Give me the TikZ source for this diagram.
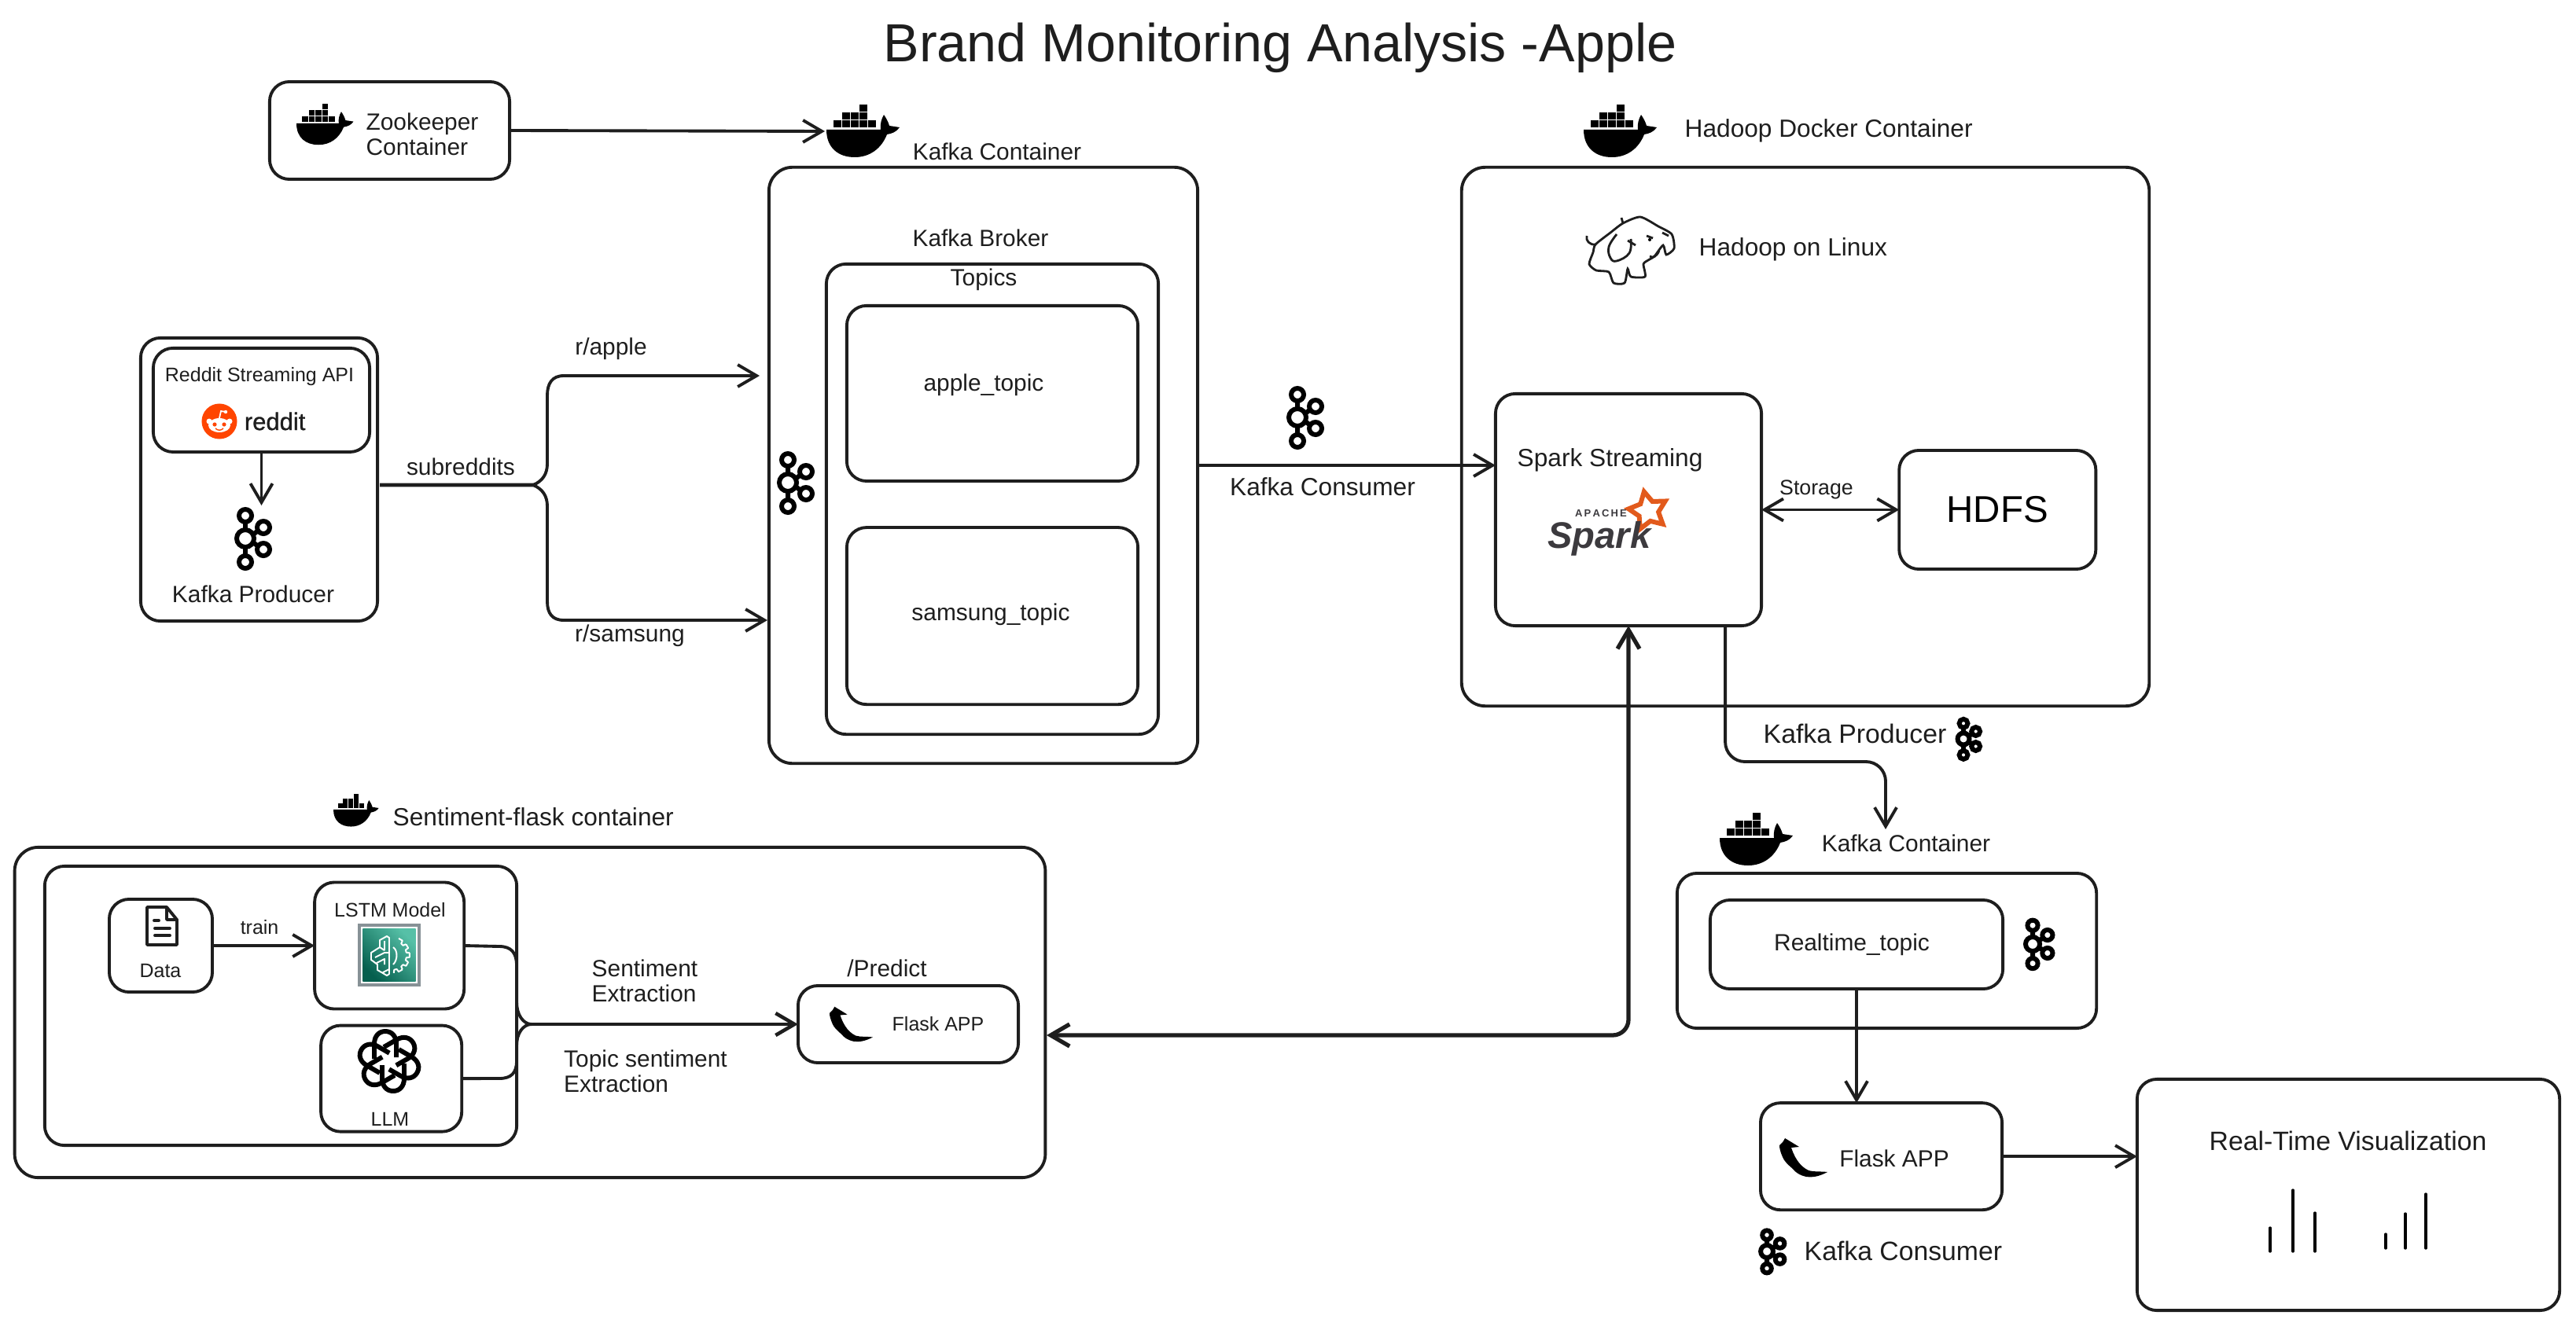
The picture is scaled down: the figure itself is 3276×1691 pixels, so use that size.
\documentclass[tikz,border=0pt]{standalone}
\usepackage{fontspec}
\setmainfont{Liberation Sans}
\usepackage{tikz}
\usetikzlibrary{positioning, shapes.geometric, arrows.meta}
\definecolor{redditorange}{HTML}{FF4500}
\definecolor{sparkorange}{HTML}{E25A1C}
\definecolor{sparkgrey}{HTML}{3C3A3E}
\definecolor{inkblack}{HTML}{1E1E1E}
\definecolor{lstmdark}{HTML}{055F4E}
\definecolor{lstmlight}{HTML}{56C0A7}
\definecolor{lstmedge}{HTML}{879196}
\newcommand{\titlefont}{\fontsize{19.4pt}{23pt}\selectfont}
\newcommand{\hdfsfont}{\fontsize{13.5pt}{16pt}\selectfont}
\newcommand{\vizfont}{\fontsize{9.6pt}{11pt}\selectfont}
\newcommand{\wordfont}{\fontsize{9pt}{10.2pt}\selectfont}
\newcommand{\lblfont}{\fontsize{8.5pt}{9.2pt}\selectfont}
\newcommand{\tinyfont}{\fontsize{7.1pt}{8.5pt}\selectfont}

\begin{document}
\begin{tikzpicture}[
  x=0.01cm, y=-0.01cm,
  box/.style={rectangle, draw=inkblack, rounded corners=0.25cm, line width=1.1pt,
              inner sep=0pt, outer sep=0pt},
  bigbox/.style={box, rounded corners=0.3cm},
  word/.style={font=\wordfont, text=inkblack, inner sep=0pt, align=left, yshift=-0.03cm},
  vizword/.style={word, font=\vizfont},
  lbl/.style={font=\lblfont, text=inkblack, inner sep=0pt, align=left, yshift=-0.03cm},
  tiny/.style={font=\tinyfont, text=inkblack, inner sep=0pt, yshift=-0.03cm},
  line/.style={draw=inkblack, -{Straight Barb[length=0.24cm,width=0.28cm]},
               line width=1.1pt, line join=round},
  bothline/.style={line, {Straight Barb[length=0.24cm,width=0.28cm]}-{Straight Barb[length=0.24cm,width=0.28cm]}},
  plain/.style={draw=inkblack, line width=1.1pt, line join=round},
  kafkaicon/.pic={
    \draw[black, line width=1.7pt] (0,0) circle (11)
      (0,-11) -- (0,-20) (0,11) -- (0,20) (10,-5) -- (15,-9) (10,5) -- (15,9);
    \foreach \kx/\ky in {0/-29, 0/30, 23/-14, 23/14}
      \draw[black, line width=1.7pt] (\kx,\ky) circle (8);
  },
  dockerwhale/.pic={
    \fill[black] (0,32) -- (69,32) .. controls (68,25) and (70,18) .. (73,13)
      .. controls (76,17) and (79,23) .. (80,27) -- (93,29)
      .. controls (89,35) and (83,37) .. (77,38)
      .. controls (70,56) and (55,67) .. (36,67)
      .. controls (15,67) and (0,55) .. (0,32) -- cycle;
    \foreach \dx in {0,...,4}
      \fill[black] (9+11*\dx,20) rectangle +(9.6,9.4);
    \foreach \dx in {1,2,3}
      \fill[black] (9+11*\dx,10) rectangle +(9.6,9);
    \fill[black] (42,0) rectangle +(9.6,9);
  },
  flasklogo/.pic={
    \fill[black] (7,3) -- (25,14) -- (15,15)
      .. controls (18,24) and (24,38) .. (37,44)
      .. controls (44,46) and (53,45) .. (61,46)
      .. controls (50,52) and (42,53) .. (34,52)
      .. controls (25,50) and (20,46) .. (17,42)
      .. controls (10,36) and (6,32) .. (4,27)
      .. controls (1,20) and (0,16) .. (0,12)
      .. controls (3,10) and (5,7) .. (7,3) -- cycle;
  },
  docicon/.pic={
    \draw[inkblack, line width=1.1pt, line join=round]
      (0,0) -- (25,0) -- (38,16) -- (38,48) -- (0,48) -- cycle
      (25,0) -- (25,16) -- (38,16);
    \draw[inkblack, line width=1.1pt, line cap=round]
      (9,17) -- (15,17) (10,27) -- (29,27) (10,36) -- (29,36);
  },
  openailogo/.pic={
    \foreach \ang in {0,60,...,300}
      \draw[black, line width=1.7pt, rotate=\ang]
        (9,-5) -- (9,-22) .. controls (9,-32) and (3,-38) .. (-5,-38)
        .. controls (-13,-38) and (-19,-32) .. (-19,-22) -- (-19,-3);
  },
  elephantlogo/.pic={
    \draw[inkblack, line width=0.8pt, fill=white] plot[smooth cycle, tension=0.4] coordinates {
      (15,35) (34,20) (50,8) (72,0) (95,12) (112,22) (115,40) (105,48) (101,36)
      (90,50) (82,55) (76,60) (78,76) (60,76) (56,66) (52,84) (38,84) (32,70) (16,68) (7,60) (12,45)};
    \draw[inkblack, line width=0.8pt] plot[smooth, tension=0.7] coordinates {
      (42,22) (32,38) (34,52) (42,56) (58,46) (60,28)};
    \draw[inkblack, line width=0.8pt] (15,35) .. controls (8,36) and (2,30) .. (4,24)
      (80,24) -- (88,27) (84,50) .. controls (88,53) and (93,50) .. (96,43)
      (100,20) -- (108,24) (50,8) -- (48,1) (56,30) -- (66,36);
    \fill[black] (84,29) circle (2);
  },
  brainicon/.pic={
    \draw[white, line width=0.55pt, line join=round]
      (-3,-24) -- (-12,-19) -- (-12,-10) -- (-23,-3) -- (-23,6) -- (-15,12) -- (-15,19) -- (-3,26) -- (0,24) -- (0,-22) -- cycle
      (-12,-10) -- (-6,-6) (-6,-18) -- (-6,-6) (-18,3) -- (-6,-3) -- (0,-3)
      (-16,10) -- (-6,5) -- (-6,12) (0,18) -- (-8,22);
    \draw[white, line width=0.55pt] (5,-10) .. controls (11,-6) and (11,6) .. (5,12);
    \foreach \gang in {-60,-30,...,60}
      \draw[white, line width=0.55pt, line join=round] (3,0) +(\gang-7:23) -- +(\gang+7:23) -- +(\gang+10:19) -- +(\gang+20:19) -- +(\gang+23:23);
  }
]
\useasboundingbox (0,0) rectangle (3276,1691);
% Nodes
\node[font=\titlefont, text=inkblack, inner sep=0pt] (brandtitle) at (1628,61) {Brand Monitoring Analysis -Apple};

\node[box, minimum width=3.05cm, minimum height=1.24cm] (zkbox) at (495.5,166) {};
\node[lbl, align=left] (zklabel) at (537,168) {Zookeeper\\Container};
\node[bigbox, minimum width=5.45cm, minimum height=7.58cm] (kafkabox) at (1250.5,592) {};
\node[lbl] (kafkalabel) at (1268,190) {Kafka Container};
\node[box, minimum width=4.22cm, minimum height=5.98cm, below=1.23cm of kafkabox.north, xshift=0.115cm] (brokerbox) {};
\node[lbl] (brokerlabel) at (1247,300) {Kafka Broker};
\node[lbl] (topicslabel) at (1251,353) {Topics};
\node[box, minimum width=3.7cm, minimum height=2.23cm, below=0.53cm of brokerbox.north] (appletopic) {};
\node[box, minimum width=3.7cm, minimum height=2.25cm, below=0.59cm of appletopic] (samsungtopic) {};
\node[lbl] (applelabel) at (1251,487) {apple\_topic};
\node[lbl] (samsunglabel) at (1260,779) {samsung\_topic};

\node[box, minimum width=3.01cm, minimum height=3.6cm] (producerbox) at (329.5,610) {};
\node[box, minimum width=2.75cm, minimum height=1.32cm, below=0.13cm of producerbox.north, xshift=0.03cm] (redditbox) {};
\node[tiny] (redditlabel) at (330,476) {Reddit Streaming API};
\node[circle, fill=redditorange, minimum size=0.45cm, inner sep=0pt] (redditlogo) at (279,536) {};
\node[font=\fontsize{8.8pt}{10pt}\selectfont\addfontfeature{FakeBold=1}, text=inkblack, inner sep=0pt, right=0.08cm of redditlogo] (reddittext) {reddit};
\node[lbl] (producerlabel) at (322,753) {Kafka Producer};

\node[lbl] (subredditslabel) at (586,591) {subreddits};
\node[lbl] (applesub) at (777,441) {r/apple};
\node[lbl] (samsungsub) at (801,806) {r/samsung};
\node[word] (consumerlabel) at (1682,616) {Kafka Consumer};

\node[bigbox, minimum width=8.74cm, minimum height=6.85cm] (hadoopbox) at (2296,555.5) {};
\node[word, anchor=west] (dockerlabel) at (2142,163) {Hadoop Docker Container};
\node[word, anchor=west] (linuxlabel) at (2160,314) {Hadoop on Linux};
\node[box, minimum width=3.38cm, minimum height=2.95cm] (sparkbox) at (2071,648.5) {};
\node[word, anchor=west] (sparklabel) at (1929,582) {Spark Streaming};
\node[box, minimum width=2.5cm, minimum height=1.51cm, right=1.75cm of sparkbox] (hdfsbox) {\hdfsfont HDFS};
\node[font=\fontsize{7.6pt}{9pt}\selectfont, text=inkblack, inner sep=0pt, yshift=-0.03cm] (storagelabel) at (2310,620) {Storage};
\node[star, star points=5, star point ratio=1.9, draw=sparkorange, line width=1.7pt, rotate=12,
      minimum size=0.5cm, inner sep=0pt] (sparkstar) at (2096,650) {};
\node[font=\fontsize{13.4pt}{15pt}\bfseries\itshape\selectfont, text=sparkgrey, inner sep=0pt, anchor=base] (sparktext) at (2034,697) {Spark};
\node[font=\fontsize{3.7pt}{4pt}\bfseries\selectfont, text=sparkgrey, inner sep=0pt] (apachetext) at (2036,653) {A\,P\,A\,C\,H\,E};

\node[vizword, anchor=west] (producerlabeltwo) at (2242,930) {Kafka Producer};
\node[lbl] (kafkalabeltwo) at (2424,1070) {Kafka Container};
\node[box, minimum width=5.33cm, minimum height=1.97cm] (lowerkafka) at (2399.5,1209.5) {};
\node[box, minimum width=3.72cm, minimum height=1.13cm] (realtimebox) at (2361,1201.5) {};
\node[lbl] (realtimelabel) at (2355,1199) {Realtime\_topic};
\node[box, minimum width=3.07cm, minimum height=1.36cm, below=1.45cm of realtimebox, xshift=0.315cm] (flaskbox) {};
\node[lbl] (flasklabel) at (2409,1471) {Flask APP};
\node[box, minimum width=5.37cm, minimum height=2.94cm] (vizbox) at (2986.5,1520) {};
\node[vizword] (vizlabel) at (2986,1448) {Real-Time Visualization};
\node[vizword, anchor=west] (consumertwo) at (2294,1588) {Kafka Consumer};

\node[bigbox, minimum width=13.1cm, minimum height=4.2cm] (sentimentbox) at (674,1288) {};
\node[word, anchor=west] (sentimentlabel) at (499,1036) {Sentiment-flask container};
\node[box, minimum width=6cm, minimum height=3.55cm] (innerbox) at (357,1279.5) {};
\node[box, minimum width=1.31cm, minimum height=1.18cm] (databox) at (204.5,1203) {};
\node[tiny] (datalabel) at (204,1232) {Data};
\node[box, minimum width=1.9cm, minimum height=1.61cm, right=1.3cm of databox] (lstmbox) {};
\node[tiny] (lstmlabel) at (496,1155) {LSTM Model};
\node[rectangle, draw=lstmedge, line width=1.4pt, fill=white, minimum size=0.76cm, inner sep=0pt] (lstmicon) at (495,1215) {};
\node[rectangle, minimum size=0.67cm, inner sep=0pt, bottom color=lstmdark, top color=lstmlight, shading angle=-45] (lstmfill) at (lstmicon) {};
\node[box, minimum width=1.79cm, minimum height=1.35cm, below=0.21cm of lstmbox, xshift=0.025cm] (llmbox) {};
\node[tiny] (llmlabel) at (496,1421) {LLM};
\node[box, minimum width=2.8cm, minimum height=0.98cm] (predictbox) at (1155,1303) {};
\node[lbl] (predictlabel) at (1128,1229) {/Predict};
\node[tiny] (flaskapplabel) at (1193,1300) {Flask APP};
\node[tiny, right=0pt of databox, xshift=0.35cm, yshift=0.26cm] (trainlabel) {train};
\node[lbl] (extractlabel) at (820,1245) {Sentiment\\Extraction};
\node[lbl] (topiclabel) at (821,1360) {Topic sentiment\\Extraction};

% Icons
\pic[scale=0.78] (zkwhale) at (377,132) {dockerwhale};
\pic (kafkawhale) at (1051,133) {dockerwhale};
\pic (hadoopwhale) at (2014,133) {dockerwhale};
\pic[scale=0.62] (flaskwhale) at (424,1010) {dockerwhale};
\pic (lowerwhale) at (2187,1034) {dockerwhale};
\pic (hadoopphant) at (2014,276) {elephantlogo};
\pic (producerkafka) at (312,685) {kafkaicon};
\pic (brokerkafka) at (1002,614) {kafkaicon};
\pic (consumerkafka) at (1650,531) {kafkaicon};
\pic[scale=0.68] (storekafka) at (2497,940) {kafkaicon};
\pic[scale=0.82] (realtimekafka) at (2585,1201) {kafkaicon};
\pic[scale=0.72] (bottomkafka) at (2247,1592) {kafkaicon};
\pic (lowerflask) at (2263,1445) {flasklogo};
\pic[scale=0.9] (predictflask) at (1055,1278) {flasklogo};
\pic (dataicon) at (187,1154) {docicon};
\pic (llmicon) at (495,1350) {openailogo};
\pic (lstmbrain) at (495,1215) {brainicon};

% Reddit face
\fill[white] (279,541) ellipse (14 and 9) (266,536) circle (3.5) (292,536) circle (3.5) (287,524) circle (2.2);
\draw[white, line width=0.5pt] (279,532) -- (281,523) -- (287,524);
\fill[redditorange] (273,540) circle (2.6) (285,540) circle (2.6);
\draw[redditorange, line width=0.4pt] (274,545) .. controls (277,548) and (281,548) .. (284,545);

% Bars
\foreach \barx/\bartop/\barend in {2887/1562/1592, 2916/1514/1592, 2944/1543/1592,
                                   3034/1570/1588, 3059/1544/1588, 3085/1519/1588}
  \draw[black, line width=0.95pt, line cap=round] (\barx,\bartop) -- (\barx,\barend);

% Edges
\coordinate (kafkadock) at (1049,167);
\coordinate (subsplit) at (678,617);
\coordinate (appleport) at (966,478);
\coordinate (samsungport) at (976,789);
\coordinate (modeljoin) at (676,1303);
\coordinate (storedrop) at (2398,1055);
\coordinate (flaskport) at (1331,1317);

\path[line] (zkbox.east) -- (kafkadock);
\path[line] (redditbox.south) -- (redditbox.south |- 0,643);
\path[plain, line width=1.4pt] ([yshift=-0.07cm, xshift=0.03cm]producerbox.east) -- (subsplit);
\path[line] (subsplit) .. controls (690,612) and (696,603) .. (696,590) -- (696,503)
  .. controls (696,488) and (702,478) .. (717,478) -- (appleport);
\path[line] (subsplit) .. controls (690,622) and (696,631) .. (696,644) -- (696,765)
  .. controls (696,780) and (702,789) .. (717,789) -- (samsungport);
\path[line] (kafkabox.east) -- (kafkabox.east -| sparkbox.west);
\path[bothline] (sparkbox.east) -- (hdfsbox.west);
\path[line, rounded corners=0.25cm] ([xshift=1.23cm]sparkbox.south) |- (2398,969) -- (storedrop);
\path[bothline, line width=1.5pt, rounded corners=0.2cm] (sparkbox.south) |- (flaskport);
\path[line] (realtimebox.south) -- (realtimebox.south |- flaskbox.north);
\path[line] (flaskbox.east) -- (flaskbox.east -| vizbox.west);
\path[line] (databox.east) -- (lstmbox.west);
\path[line, line width=1.3pt] (modeljoin) -- (predictbox.west);
\path[plain] (lstmbox.east) -- (635,1204) .. controls (650,1204) and (657,1212) .. (657,1228) -- (657,1275)
  .. controls (657,1290) and (665,1303) .. (modeljoin);
\path[plain] (llmbox.east) -- (635,1372) .. controls (650,1372) and (657,1365) .. (657,1350) -- (657,1330)
  .. controls (657,1315) and (665,1303) .. (modeljoin);
\end{tikzpicture}
\end{document}
